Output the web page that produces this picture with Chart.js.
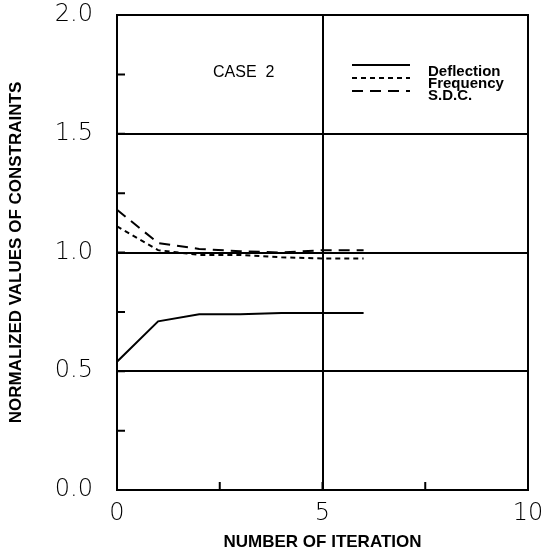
<!DOCTYPE html>
<html>
<head>
<meta charset="UTF-8">
<script src="https://cdn.jsdelivr.net/npm/chart.js"></script>
<style>
  body { margin: 0; background: #fff; }
  #wrap { width: 544px; height: 556px; position: relative; }
</style>
</head>
<body>
<div id="wrap"><canvas id="grafico"></canvas></div>
<script>
  // dados
  const iteracoes = [0, 1, 2, 3, 4, 5, 6];
  const deflection = [0.54, 0.71, 0.74, 0.74, 0.745, 0.745, 0.745];
  const frequency = [1.11, 1.01, 0.99, 0.99, 0.98, 0.975, 0.975];
  const sdc = [1.18, 1.04, 1.015, 1.005, 1.0, 1.01, 1.01];
  const xTicks = [0, 2.5, 5, 7.5, 10];
  const yTicks = [0, 0.25, 0.5, 0.75, 1.0, 1.25, 1.5, 1.75, 2.0];

  const pts = arr => iteracoes.map((x, i) => ({ x: x, y: arr[i] }));
  const fonteTick = { family: '"DejaVu Sans", sans-serif', size: 24, weight: 200 };
  const fonteTitulo = { family: '"Liberation Sans", sans-serif', size: 17, weight: 'bold' };

  // ticks internos, moldura e legenda
  const extras = {
    id: 'extras',
    afterDatasetsDraw(chart) {
      const ctx = chart.ctx, a = chart.chartArea;
      const xs = chart.scales.x, ys = chart.scales.y;
      ctx.save();
      ctx.strokeStyle = '#000';
      ctx.lineWidth = 2;
      ctx.setLineDash([]);
      ctx.beginPath();
      yTicks.forEach(v => {
        const py = ys.getPixelForValue(v);
        ctx.moveTo(a.left, py); ctx.lineTo(a.left + 8, py);
      });
      xTicks.forEach(v => {
        const px = xs.getPixelForValue(v);
        ctx.moveTo(px, a.bottom); ctx.lineTo(px, a.bottom - 8);
      });
      ctx.rect(a.left, a.top, a.right - a.left, a.bottom - a.top);
      ctx.stroke();

      // legenda
      const itens = [
        { t: 'Deflection', d: [] },
        { t: 'Frequency', d: [5, 4] },
        { t: 'S.D.C.', d: [11, 7] }
      ];
      ctx.font = 'bold 15px "Liberation Sans", sans-serif';
      ctx.fillStyle = '#000';
      ctx.textBaseline = 'middle';
      itens.forEach((it, i) => {
        const y = 65 + i * 13;
        ctx.setLineDash(it.d);
        ctx.beginPath();
        ctx.moveTo(352, y); ctx.lineTo(410, y);
        ctx.stroke();
        ctx.fillText(it.t, 428, 72 + i * 12);
      });
      ctx.setLineDash([]);
      ctx.font = '16px "Liberation Sans", sans-serif';
      ctx.fillText('CASE  2', 213, 73);
      ctx.restore();
    }
  };

  const ctx = document.getElementById('grafico').getContext('2d');
  new Chart(ctx, {
    type: 'line',
    data: {
      datasets: [
        { label: 'Deflection', data: pts(deflection), borderColor: '#000', borderWidth: 2, pointRadius: 0, tension: 0 },
        { label: 'Frequency', data: pts(frequency), borderColor: '#000', borderWidth: 2, borderDash: [5, 4], pointRadius: 0, tension: 0 },
        { label: 'S.D.C.', data: pts(sdc), borderColor: '#000', borderWidth: 2, borderDash: [11, 7], pointRadius: 0, tension: 0 }
      ]
    },
    options: {
      responsive: true,
      maintainAspectRatio: false,
      animation: false,
      layout: { padding: { top: 15, right: 16, left: 0, bottom: 0 } },
      plugins: { legend: { display: false }, tooltip: { enabled: false } },
      scales: {
        x: {
          type: 'linear', min: 0, max: 10,
          afterBuildTicks: s => { s.ticks = xTicks.map(v => ({ value: v })); },
          afterFit: s => { s.height = 66; s.paddingLeft = 0; s.paddingRight = 0; },
          border: { display: false },
          grid: {
            drawTicks: false,
            color: c => (c.tick && c.tick.value === 5) ? '#000' : 'rgba(0,0,0,0)',
            lineWidth: 2
          },
          ticks: {
            padding: 9,
            color: '#000',
            maxRotation: 0,
            font: fonteTick,
            callback: v => (v % 5 === 0 ? String(v) : '')
          },
          title: {
            display: true, text: 'NUMBER OF ITERATION', color: '#000',
            font: fonteTitulo,
            padding: { top: 0, bottom: 3 }
          }
        },
        y: {
          min: 0, max: 2,
          afterBuildTicks: s => { s.ticks = yTicks.map(v => ({ value: v })); },
          afterFit: s => { s.width = 117; s.paddingTop = 0; s.paddingBottom = 0; },
          border: { display: false },
          grid: {
            drawTicks: false,
            color: c => (c.tick && [0.5, 1, 1.5].includes(c.tick.value)) ? '#000' : 'rgba(0,0,0,0)',
            lineWidth: 2
          },
          ticks: {
            padding: 24,
            color: '#000',
            font: fonteTick,
            callback: v => (v * 2 % 1 === 0 ? v.toFixed(1) : '')
          },
          title: {
            display: true, text: 'NORMALIZED VALUES OF CONSTRAINTS', color: '#000',
            font: fonteTitulo,
            padding: { top: 6, bottom: 0 }
          }
        }
      }
    },
    plugins: [extras]
  });
</script>
</body>
</html>
